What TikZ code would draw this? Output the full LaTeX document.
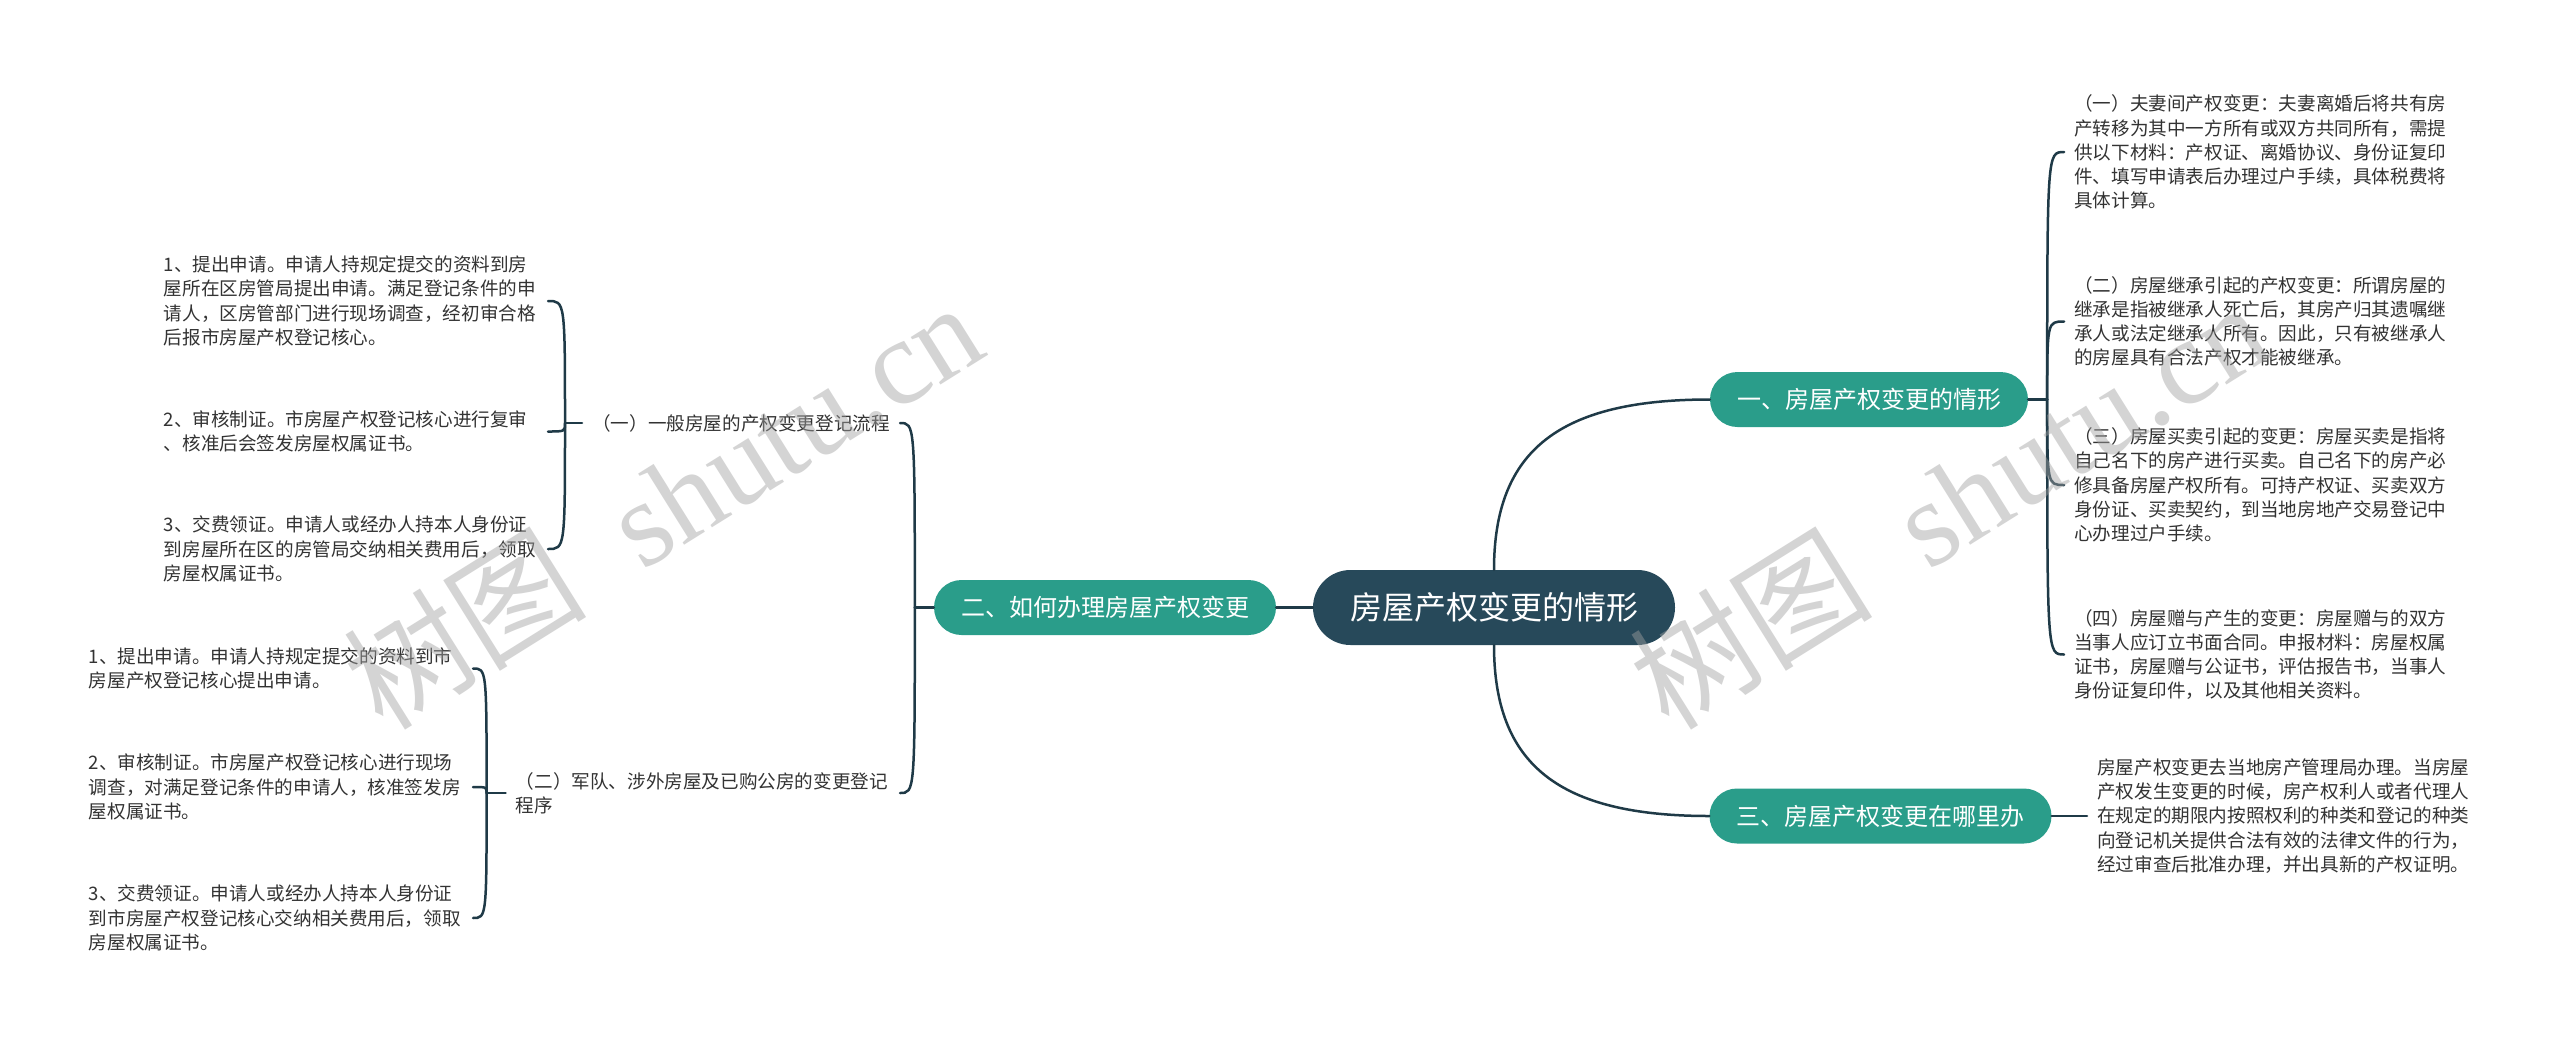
\documentclass[tikz,border=0pt]{standalone}
\usepackage{fontspec}
\setmainfont{Noto Sans CJK SC}
\newfontfamily\wmlatin{Liberation Serif}
\usetikzlibrary{calc}
\definecolor{rootc}{HTML}{27495A}
\definecolor{branchc}{HTML}{2A9D8A}
\definecolor{linec}{HTML}{1F3A47}
\definecolor{textc}{HTML}{333333}
\definecolor{wmc}{HTML}{A0A0A0}
\tikzset{
  rootbox/.style={fill=rootc, text=white, rounded corners=37.5pt, minimum width=362pt, minimum height=75pt, inner sep=0pt, font=\fontsize{32}{38}\selectfont},
  branchbox/.style={fill=branchc, text=white, rounded corners=27.5pt, minimum height=55pt, inner sep=0pt, font=\fontsize{24}{28}\selectfont},
  leafbox/.style={text=textc, align=left, text width=374pt, inner xsep=10pt, inner ysep=0pt, font=\fontsize{18.6}{24.2}\selectfont},
  labelbox/.style={text=textc, align=left, inner xsep=10pt, inner ysep=0pt, font=\fontsize{18.6}{24.2}\selectfont},
  conn/.style={draw=linec, line width=2.5pt, line cap=round},
  wmark/.style={text=wmc, text opacity=0.45, inner sep=0pt, font=\fontsize{122}{122}\selectfont}
}
\begin{document}
\begin{tikzpicture}[x=1pt,y=-1pt]
\fill[white] (0,0) rectangle (2560,1042);
\useasboundingbox (0,0) rectangle (2560,1042);

% main nodes
\node[rootbox] (root) at (1494,607.5) {房屋产权变更的情形};
\node[branchbox, minimum width=342pt] (b2) at (1105,607.5) {二、如何办理房屋产权变更};
\node[branchbox, minimum width=318pt] (b1) at (1869,399.5) {一、房屋产权变更的情形};
\node[branchbox, minimum width=342pt] (b3) at (1880.5,816) {三、房屋产权变更在哪里办};

% right leaves
\node[leafbox, anchor=west] (r1) at (2064,152) {（一）夫妻间产权变更：夫妻离婚后将共有房\\产转移为其中一方所有或双方共同所有，需提\\供以下材料：产权证、离婚协议、身份证复印\\件、填写申请表后办理过户手续，具体税费将\\具体计算。};
\node[leafbox, anchor=west] (r2) at (2064,321.5) {（二）房屋继承引起的产权变更：所谓房屋的\\继承是指被继承人死亡后，其房产归其遗嘱继\\承人或法定继承人所有。因此，只有被继承人\\的房屋具有合法产权才能被继承。};
\node[leafbox, anchor=west] (r3) at (2064,485) {（三）房屋买卖引起的变更：房屋买卖是指将\\自己名下的房产进行买卖。自己名下的房产必\\修具备房屋产权所有。可持产权证、买卖双方\\身份证、买卖契约，到当地房地产交易登记中\\心办理过户手续。};
\node[leafbox, anchor=west] (r4) at (2064,654.5) {（四）房屋赠与产生的变更：房屋赠与的双方\\当事人应订立书面合同。申报材料：房屋权属\\证书，房屋赠与公证书，评估报告书，当事人\\身份证复印件，以及其他相关资料。};
\node[leafbox, anchor=west] (r5) at (2087,816) {房屋产权变更去当地房产管理局办理。当房屋\\产权发生变更的时候，房产权利人或者代理人\\在规定的期限内按照权利的种类和登记的种类\\向登记机关提供合法有效的法律文件的行为，\\经过审查后批准办理，并出具新的产权证明。};

% left labels
\node[labelbox, anchor=east] (s1) at (900,423) {（一）一般房屋的产权变更登记流程};
\node[leafbox, anchor=east] (s2) at (900,793) {（二）军队、涉外房屋及已购公房的变更登记\\程序};

% left leaves
\node[leafbox, anchor=east] (l1) at (548,301) {1、提出申请。申请人持规定提交的资料到房\\屋所在区房管局提出申请。满足登记条件的申\\请人，区房管部门进行现场调查，经初审合格\\后报市房屋产权登记核心。};
\node[leafbox, anchor=east] (l2) at (548,431.5) {2、审核制证。市房屋产权登记核心进行复审\\、核准后会签发房屋权属证书。};
\node[leafbox, anchor=east] (l3) at (548,549) {3、交费领证。申请人或经办人持本人身份证\\到房屋所在区的房管局交纳相关费用后，领取\\房屋权属证书。};
\node[leafbox, anchor=east] (m1) at (473,668.5) {1、提出申请。申请人持规定提交的资料到市\\房屋产权登记核心提出申请。};
\node[leafbox, anchor=east] (m2) at (473,787) {2、审核制证。市房屋产权登记核心进行现场\\调查，对满足登记条件的申请人，核准签发房\\屋权属证书。};
\node[leafbox, anchor=east] (m3) at (473,918) {3、交费领证。申请人或经办人持本人身份证\\到市房屋产权登记核心交纳相关费用后，领取\\房屋权属证书。};

% junctions
\coordinate (j1) at ([xshift=19pt]b1.east);
\coordinate (j2) at ([xshift=-19pt]b2.west);
\coordinate (j3) at ([xshift=-17pt]s1.west);
\coordinate (j4) at ([xshift=-19pt]s2.west);

% connectors
\draw[conn] (root.west) -- (b2.east);
\draw[conn] (root.north) .. controls ($(root.north)+(0,-120)$) and ($(b1.west)+(-150,0)$) .. (b1.west);
\draw[conn] (root.south) .. controls ($(root.south)+(0,120)$) and ($(b3.west)+(-150,0)$) .. (b3.west);
\draw[conn] (b3.east) -- (r5.west);

\draw[conn] (b1.east) -- (j1);
\foreach \c in {r1,r2,r3,r4} \draw[conn] (j1) .. controls (j1 |- \c.west) .. (\c.west);

\draw[conn] (b2.west) -- (j2);
\foreach \c in {s1,s2} \draw[conn] (j2) .. controls (j2 |- \c.east) .. (\c.east);

\draw[conn] (s1.west) -- (j3);
\foreach \c in {l1,l2,l3} \draw[conn] (j3) .. controls (j3 |- \c.east) .. (\c.east);

\draw[conn] (s2.west) -- (j4);
\foreach \c in {m1,m2,m3} \draw[conn] (j4) .. controls (j4 |- \c.east) .. (\c.east);

% watermarks
\node[wmark, rotate=32] (w1) at (662,504) {树图\hspace{0.5em}{\wmlatin shutu.cn}};
\node[wmark, rotate=32] (w2) at (1948,504) {树图\hspace{0.5em}{\wmlatin shutu.cn}};
\end{tikzpicture}
\end{document}
